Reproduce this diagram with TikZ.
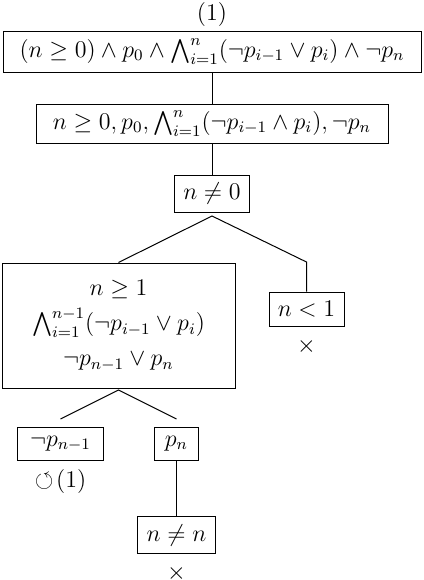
\documentclass[tikz,border=0pt,12pt]{standalone}
\usepackage{amsmath,amssymb}
\begin{document}
\begin{tikzpicture}[x=0.5pt,y=-0.5pt,
  box/.style={draw, line width=0.5pt, inner sep=0pt},
  conn/.style={line width=0.5pt},
  lbl/.style={inner sep=0pt}]
\useasboundingbox (0,0) rectangle (424,580);
\node[lbl] (top) at (212,14) {$(1)$};
\node[box, minimum width=209pt, minimum height=20.5pt] (b1) at (212,51.5)
  {$(n\geq 0)\wedge p_0\wedge \bigwedge_{i=1}^{n}(\neg p_{i-1}\vee p_i)\wedge\neg p_n$};
\node[box, minimum width=176pt, minimum height=19.5pt] (b2) at (212,123.5)
  {$n\geq 0, p_0, \bigwedge_{i=1}^{n}(\neg p_{i-1}\wedge p_i), \neg p_n$};
\node[box, minimum width=37.5pt, minimum height=18.5pt] (b3) at (212,193.5) {$n\neq 0$};
\node[box, minimum width=116.5pt, minimum height=62.5pt, align=center] (b4) at (118.5,325.5)
  {$n\geq 1$\\[3pt] $\bigwedge_{i=1}^{n-1}(\neg p_{i-1}\vee p_i)$\\[3pt] $\neg p_{n-1}\vee p_n$};
\node[box, minimum width=37.5pt, minimum height=17pt] (b5) at (306.5,309) {$n<1$};
\node[lbl] (x1) at (306.5,346) {$\times$};
\node[box, minimum width=42.8pt, minimum height=16.5pt] (b6) at (60.5,443.5) {$\neg p_{n-1}$};
\node[lbl] (loop) at (60.5,481) {$\circlearrowleft\!(1)$};
\node[box, minimum width=22pt, minimum height=16.5pt] (b7) at (176.5,443.5) {$p_n$};
\node[box, minimum width=39pt, minimum height=18.6pt] (b8) at (176.5,535.3) {$n\neq n$};
\node[lbl] (x2) at (176.5,573) {$\times$};
\coordinate (s1) at (212,216);
\coordinate (r1) at (306.5,262);
\coordinate (s2) at (118.5,390);
\coordinate (l2) at (60.5,419);
\coordinate (r2) at (176.5,419);
\draw[conn] (b1) -- (b2);
\draw[conn] (b2) -- (b3);
\draw[conn] (b4.north) -- (s1) -- (r1) -- (b5.north);
\draw[conn] (l2) -- (s2) -- (r2);
\draw[conn] (b7) -- (b8);
\end{tikzpicture}
\end{document}
